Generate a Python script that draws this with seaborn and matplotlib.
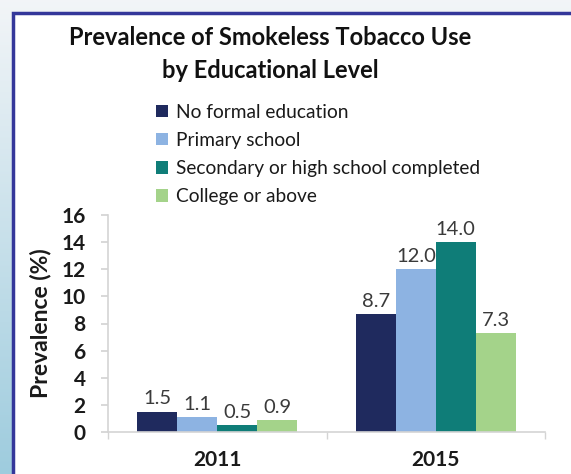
import numpy as np
import pandas as pd
import matplotlib
matplotlib.use("Agg")
import matplotlib.pyplot as plt
import seaborn as sns
from matplotlib.patches import Rectangle

years = ["2011", "2015"]
groups = ["No formal education", "Primary school",
          "Secondary or high school completed", "College or above"]
no_formal = [1.5, 8.7]
primary = [1.1, 12.0]
secondary = [0.5, 14.0]
college = [0.9, 7.3]
colors = ["#1f2a5e", "#8db3e2", "#0f7d78", "#a4d38a"]

title = "Prevalence of Smokeless Tobacco Use\nby Educational Level"
ylabel = "Prevalence (%)"
yticks = [0, 2, 4, 6, 8, 10, 12, 14, 16]

rows = []
for g, vals in zip(groups, [no_formal, primary, secondary, college]):
    for y, v in zip(years, vals):
        rows.append({"Year": y, "Group": g, "Value": v})
df = pd.DataFrame(rows)

sns.set_theme(style="white")
plt.rcParams["font.family"] = ["Lato", "DejaVu Sans"]

W, H = 571, 474
fig = plt.figure(figsize=(W / 100, H / 100), dpi=100)

# background gradient
bg = fig.add_axes([0, 0, 1, 1], zorder=-10)
grad = np.linspace(0, 1, 200)[:, None]
top = np.array([0.95, 0.96, 0.97])
bot = np.array([0.62, 0.80, 0.87])
img = top[None, None, :] * (1 - grad[:, :, None]) + bot[None, None, :] * grad[:, :, None]
img = np.repeat(img, 2, axis=1)
bg.imshow(img, aspect="auto", extent=[0, 1, 0, 1])
bg.axis("off")

# white panel with navy border
fig.patches.append(Rectangle((13 / W, -0.05), 1.1, 1 - 13 / H + 0.05,
                             transform=fig.transFigure, facecolor="white",
                             edgecolor="#34379a", linewidth=2.5, zorder=-5))

ax = fig.add_axes([108 / W, 1 - 432 / H, (545 - 108) / W, (432 - 215) / H])
ax.set_facecolor("none")
sns.barplot(data=df, x="Year", y="Value", hue="Group", hue_order=groups,
            palette=colors, width=0.73, gap=0, ax=ax, legend=True,
            saturation=1, edgecolor="none")

for c in ax.containers:
    ax.bar_label(c, fmt="%.1f", padding=3, fontsize=14.5, color="#3a3a3a")

ax.set_ylim(0, 16)
ax.set_yticks(yticks)
ax.set_xlim(-0.5, 1.5)
ax.set_xlabel("")
ax.set_ylabel(ylabel, fontsize=16.5, fontweight="bold", color="#1a1a1a", labelpad=7)
for s in ["top", "right"]:
    ax.spines[s].set_visible(False)
for s in ["left", "bottom"]:
    ax.spines[s].set_color("#d4d4d4")
    ax.spines[s].set_linewidth(1.2)
ax.tick_params(axis="y", length=5, color="#d4d4d4", labelsize=15, pad=11,
               labelcolor="#1a1a1a", left=True)
ax.tick_params(axis="x", length=0, labelsize=15, pad=13, labelcolor="#1a1a1a")
ax.set_xticks([-0.5, 0.5, 1.5], minor=True)
ax.tick_params(axis="x", which="minor", length=5, color="#d4d4d4", bottom=True)
for lbl in ax.get_yticklabels() + ax.get_xticklabels():
    lbl.set_fontweight("bold")

handles, labels = ax.get_legend_handles_labels()
ax.get_legend().remove()
fig.legend(handles, labels, loc="upper left",
           bbox_to_anchor=(148 / W, 1 - 96 / H), frameon=False,
           fontsize=13.8, handlelength=0.65, handleheight=0.65,
           handletextpad=0.4, labelspacing=0.58, borderaxespad=0,
           labelcolor="#1a1a1a")

fig.text(270 / W, 1 - 54 / H, title, ha="center", va="center",
         fontsize=17, fontweight="bold", color="#111111", linespacing=1.5)

fig.savefig("out.png", dpi=100)
